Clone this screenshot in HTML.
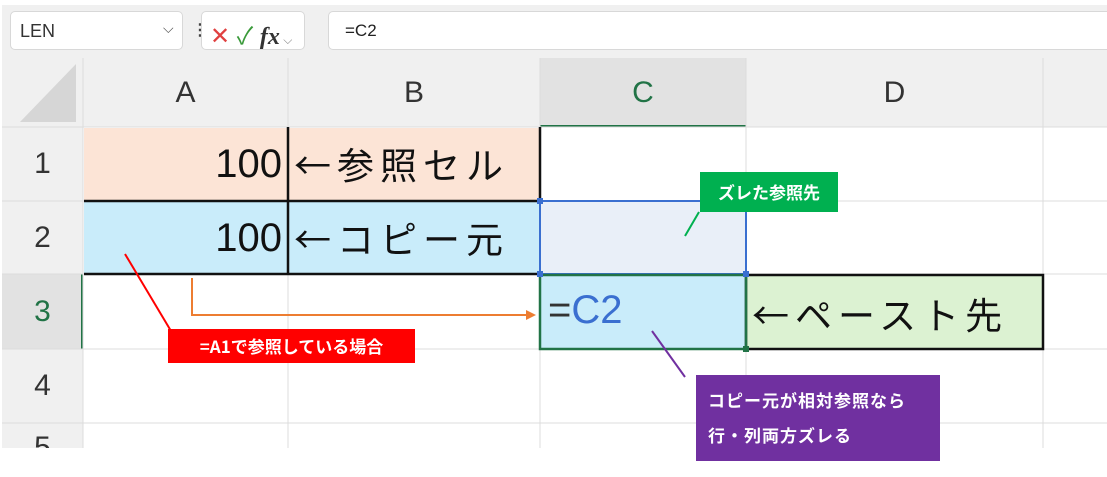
<!DOCTYPE html>
<html><head><meta charset="utf-8"><style>
body{margin:0;width:1107px;height:477px;background:#fff;position:relative;overflow:hidden;font-family:"Liberation Sans","Noto Sans CJK JP",sans-serif}
.a{position:absolute;box-sizing:border-box}
.ch{font-size:30px;color:#333;text-align:center;line-height:69px;top:58px;height:69px}
.rh{font-size:30px;color:#333;text-align:center;left:2px;width:81px}
.big{font-family:"Noto Sans CJK JP",sans-serif;font-size:37px;color:#111}
.lbl{color:#fff;font-weight:bold;font-family:"Noto Sans CJK JP",sans-serif;font-size:16px}
</style></head><body>
<div class="a" style="left:2px;top:5px;width:1105px;height:443px;background:#f0f0f0"></div>
<div class="a" style="left:10px;top:11px;width:173px;height:39px;background:#fff;border:1px solid #d8d8d8;border-radius:5px;font-size:18px;color:#333;padding:9px 0 0 9px">LEN<span style="position:absolute;left:152px;top:8px;font-size:14px;color:#555">⌵</span></div>
<div class="a" style="left:192px;top:20px;font-size:16px;color:#444;font-weight:bold">⋮</div>
<div class="a" style="left:201px;top:11px;width:104px;height:39px;background:#fff;border:1px solid #d8d8d8;border-radius:5px;font-size:24px;padding:4px 0 0 8px"><span style="color:#e04040;font-weight:300">✕</span> <span style="color:#3a9a3a">✓</span> <i style="font-family:'Liberation Serif';color:#333;font-weight:bold">fx</i><span style="font-size:12px;color:#888"> ⌵</span></div>
<div class="a" style="left:328px;top:11px;width:800px;height:39px;background:#fff;border:1px solid #d8d8d8;border-radius:5px;font-size:17px;color:#222;padding:9px 0 0 16px">=C2</div>
<svg class="a" style="left:20px;top:64px" width="56" height="60"><polygon points="56,0 56,58 0,58" fill="#d6d6d6"/></svg>
<div class="a" style="left:83px;top:127px;width:1024px;height:321px;background:#fff"></div>
<div class="a" style="left:540px;top:58px;width:206px;height:69px;background:#e2e2e2;border-bottom:2px solid #217346"></div>
<div class="a" style="left:2px;top:274px;width:81px;height:75px;background:#e2e2e2;border-right:2px solid #217346"></div>
<div class="a ch" style="left:83px;width:205px">A</div>
<div class="a ch" style="left:288px;width:252px">B</div>
<div class="a ch" style="left:540px;width:206px;color:#217346">C</div>
<div class="a ch" style="left:746px;width:297px">D</div>
<div class="a rh" style="top:127px;line-height:74px">1</div>
<div class="a rh" style="top:201px;line-height:73px">2</div>
<div class="a rh" style="top:274px;line-height:75px;color:#217346">3</div>
<div class="a rh" style="top:349px;line-height:74px">4</div>
<div class="a rh" style="top:423px;height:25px;overflow:hidden;line-height:50px">5</div>
<svg class="a" style="left:0;top:0" width="1107" height="477">
<g stroke="#dcdcdc" stroke-width="1">
<line x1="83" y1="58" x2="83" y2="448"/><line x1="288" y1="58" x2="288" y2="448"/><line x1="540" y1="58" x2="540" y2="448"/><line x1="746" y1="58" x2="746" y2="448"/><line x1="1043" y1="58" x2="1043" y2="448"/>
<line x1="2" y1="127" x2="1107" y2="127"/><line x1="2" y1="201" x2="1107" y2="201"/><line x1="2" y1="274" x2="1107" y2="274"/><line x1="2" y1="349" x2="1107" y2="349"/><line x1="2" y1="423" x2="1107" y2="423"/>
</g>
<rect x="84" y="128" width="455" height="73" fill="#fce4d6"/>
<rect x="84" y="201" width="455" height="73" fill="#c9ecfa"/>
<rect x="541" y="202" width="205" height="72" fill="#e9eff8"/>
<rect x="541" y="275" width="205" height="74" fill="#c9ecfa"/>
<rect x="747" y="275" width="296" height="74" fill="#dcf2d2"/>
<g stroke="#111" stroke-width="2.5" fill="none">
<line x1="84" y1="201" x2="540" y2="201"/><line x1="84" y1="274" x2="540" y2="274"/>
<line x1="288" y1="127" x2="288" y2="274"/><line x1="540" y1="127" x2="540" y2="201"/>
<rect x="746" y="275" width="297" height="74"/>
</g>
<rect x="540" y="201" width="206" height="73" fill="none" stroke="#3a6fd0" stroke-width="2"/>
<rect x="540" y="275" width="206" height="74" fill="none" stroke="#217346" stroke-width="2.5"/>
<g fill="#3a6fd0"><rect x="537" y="198" width="6" height="6"/><rect x="537" y="271" width="6" height="6"/><rect x="743" y="271" width="6" height="6"/></g>
<rect x="743" y="346" width="6" height="6" fill="#217346"/>
<line x1="125" y1="254" x2="171" y2="331" stroke="#f00" stroke-width="2"/>
<polyline points="192,278 192,315 528,315" fill="none" stroke="#ed7d31" stroke-width="2"/>
<polygon points="536,315 526,310 526,320" fill="#ed7d31"/>
<line x1="685" y1="236" x2="699" y2="212" stroke="#00b050" stroke-width="2"/>
<line x1="652" y1="331" x2="685" y2="377" stroke="#7030a0" stroke-width="2"/>
</svg>
<div class="a big" style="left:190px;top:142px;width:92px;text-align:right;font-family:'Liberation Sans',sans-serif;font-size:40px">100</div>
<div class="a big" style="left:190px;top:216px;width:92px;text-align:right;font-family:'Liberation Sans',sans-serif;font-size:40px">100</div>
<div class="a big" style="left:294px;top:136px;letter-spacing:6px">←参照セル</div>
<div class="a big" style="left:294px;top:210px;letter-spacing:6px">←コピー元</div>
<div class="a big" style="left:548px;top:288px;color:#3a6fd0;font-family:'Liberation Sans',sans-serif;font-size:40px"><span style="color:#333">=</span>C2</div>
<div class="a big" style="left:752px;top:286px;letter-spacing:6px">←ペースト先</div>
<div class="a lbl" style="left:700px;top:172px;width:138px;height:40px;background:#00b050;line-height:40px;text-align:center;font-size:17px">ズレた参照先</div>
<div class="a lbl" style="left:168px;top:329px;width:247px;height:34px;background:#f00;line-height:34px;text-align:center;font-size:17px">=A1で参照している場合</div>
<div class="a lbl" style="left:696px;top:375px;width:244px;height:86px;background:#7030a0;padding:7px 0 0 12px;line-height:35px;font-size:17px;letter-spacing:1px">コピー元が相対参照なら<br>行・列両方ズレる</div>
</body></html>
